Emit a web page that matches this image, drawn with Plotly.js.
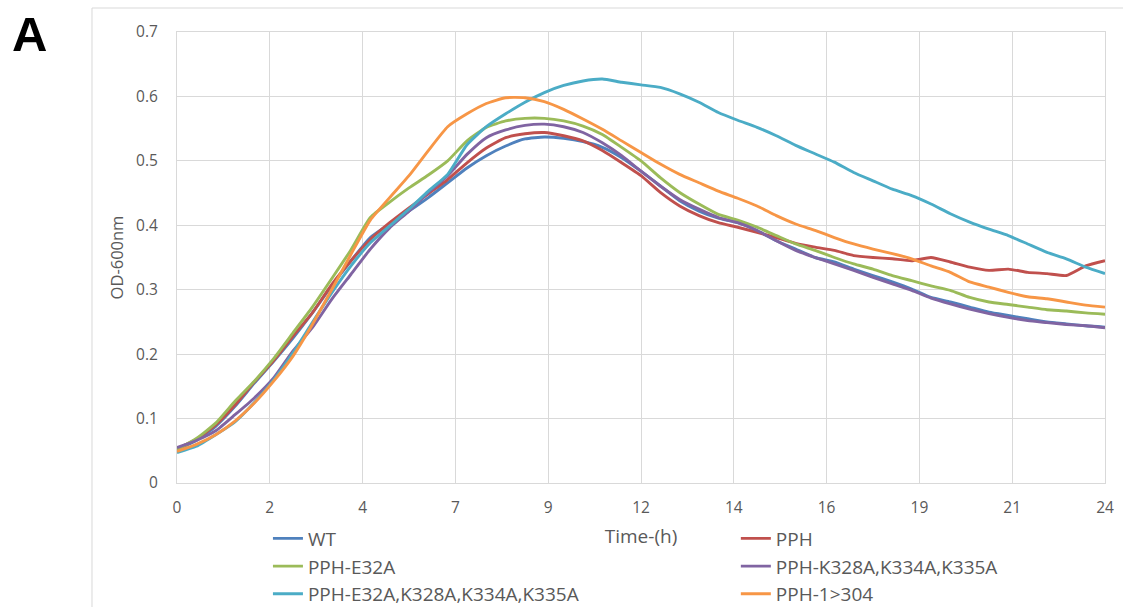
<!DOCTYPE html>
<html>
<head>
<meta charset="utf-8">
<script src="https://cdn.plot.ly/plotly-3.0.1.min.js"></script>
<style>
  html, body { margin: 0; padding: 0; background: #ffffff; overflow: hidden; }
  #chart { width: 1123px; height: 607px; }
</style>
</head>
<body>
<div id="chart"></div>
<script>
// ---- data ----
const timeHours = [0,0.5,1,1.5,2,2.5,3,3.5,4,4.5,5,5.5,6,6.5,7,7.5,8,8.5,9,9.5,10,10.5,11,11.5,12,12.5,13,13.5,14,14.5,15,15.5,16,16.5,17,17.5,18,18.5,19,19.5,20,20.5,21,21.5,22,22.5,23,23.5,24];

const seriesNames = ["WT", "PPH", "PPH-E32A", "PPH-K328A,K334A,K335A", "PPH-E32A,K328A,K334A,K335A", "PPH-1>304"];

const wt = [0.052,0.066,0.088,0.119,0.155,0.189,0.225,0.264,0.306,0.345,0.381,0.402,0.422,0.443,0.466,0.489,0.508,0.523,0.534,0.537,0.535,0.530,0.521,0.505,0.484,0.461,0.438,0.422,0.411,0.404,0.392,0.376,0.363,0.350,0.343,0.332,0.322,0.312,0.301,0.288,0.281,0.273,0.265,0.260,0.255,0.250,0.247,0.244,0.242];

const pph = [0.053,0.068,0.090,0.121,0.157,0.190,0.228,0.264,0.308,0.345,0.378,0.404,0.427,0.449,0.471,0.497,0.520,0.536,0.542,0.544,0.539,0.531,0.516,0.497,0.477,0.451,0.430,0.415,0.404,0.397,0.389,0.381,0.372,0.366,0.361,0.353,0.350,0.348,0.345,0.350,0.343,0.335,0.330,0.332,0.327,0.325,0.322,0.337,0.345];

const pphE32A = [0.052,0.069,0.093,0.127,0.158,0.193,0.233,0.273,0.317,0.362,0.412,0.436,0.458,0.478,0.500,0.531,0.552,0.562,0.566,0.566,0.562,0.554,0.541,0.521,0.500,0.474,0.451,0.433,0.417,0.408,0.397,0.384,0.371,0.361,0.350,0.340,0.332,0.322,0.314,0.306,0.299,0.288,0.281,0.277,0.273,0.269,0.267,0.264,0.262];

const pphK3 = [0.055,0.066,0.081,0.106,0.132,0.163,0.205,0.241,0.285,0.324,0.363,0.396,0.422,0.451,0.477,0.510,0.536,0.548,0.555,0.557,0.553,0.544,0.528,0.508,0.484,0.461,0.440,0.425,0.412,0.404,0.392,0.376,0.361,0.350,0.340,0.330,0.319,0.309,0.299,0.287,0.278,0.270,0.263,0.257,0.252,0.249,0.246,0.244,0.241];

const pphE32AK3 = [0.047,0.057,0.075,0.095,0.125,0.160,0.202,0.249,0.295,0.337,0.373,0.399,0.425,0.453,0.479,0.525,0.553,0.573,0.591,0.606,0.617,0.624,0.627,0.622,0.618,0.614,0.604,0.591,0.575,0.563,0.552,0.539,0.524,0.511,0.498,0.482,0.469,0.456,0.446,0.433,0.418,0.405,0.394,0.384,0.371,0.358,0.348,0.335,0.325];

const pph1to304 = [0.049,0.060,0.075,0.096,0.124,0.158,0.197,0.246,0.300,0.355,0.408,0.443,0.477,0.516,0.553,0.573,0.589,0.598,0.598,0.592,0.580,0.565,0.549,0.531,0.513,0.495,0.479,0.466,0.453,0.442,0.430,0.415,0.402,0.392,0.381,0.371,0.363,0.356,0.348,0.337,0.327,0.312,0.304,0.296,0.289,0.286,0.281,0.276,0.273];

const xTickVals = [0,2.4,4.8,7.2,9.6,12,14.4,16.8,19.2,21.6,24];
const xTickLabels = ["0","2","4","7","9","12","14","16","19","21","24"];
const yTickVals = [0,0.1,0.2,0.3,0.4,0.5,0.6,0.7];
const yTickLabels = ["0","0.1","0.2","0.3","0.4","0.5","0.6","0.7"];

// ---- styles ----
const seriesValues = [wt, pph, pphE32A, pphK3, pphE32AK3, pph1to304];
const colors = ["#4F81BD", "#C0504D", "#9BBB59", "#8064A2", "#4BACC6", "#F79646"];
const legendOf = ["legend", "legend2", "legend", "legend2", "legend", "legend2"];
const FONT = "Open Sans, Liberation Sans, sans-serif";
const GRID = "#d9d9d9";
const TXT = "#595959";

const traces = seriesValues.map((vals, i) => ({
  type: "scatter",
  mode: "lines",
  name: seriesNames[i],
  x: timeHours,
  y: vals,
  legend: legendOf[i],
  line: { color: colors[i], width: 2.9, shape: "spline", smoothing: 0.5 },
  hoverinfo: "skip"
}));

const legendBase = {
  orientation: "v",
  xanchor: "left",
  y: -0.081,
  yanchor: "top",
  font: { family: FONT, size: 19, color: TXT },
  bgcolor: "rgba(0,0,0,0)",
  borderwidth: 0,
  traceorder: "normal",
  tracegroupgap: 0,
  itemclick: false,
  itemdoubleclick: false
};

const layout = {
  width: 1123,
  height: 607,
  margin: { l: 177, r: 18, t: 32, b: 124, pad: 0, autoexpand: false },
  paper_bgcolor: "#ffffff",
  plot_bgcolor: "#ffffff",
  showlegend: true,
  font: { family: FONT, color: TXT, size: 15 },
  xaxis: {
    range: [0, 24],
    tickmode: "array",
    tickvals: xTickVals,
    ticktext: xTickLabels,
    showgrid: true,
    gridcolor: GRID,
    gridwidth: 1,
    showline: true,
    linecolor: GRID,
    linewidth: 1,
    mirror: true,
    zeroline: false,
    ticks: "",
    ticklabelstandoff: 10,
    tickfont: { family: FONT, size: 15.5, color: TXT },
    title: { text: "Time-(h)", font: { family: FONT, size: 19, color: TXT }, standoff: 13 }
  },
  yaxis: {
    range: [0, 0.7],
    tickmode: "array",
    tickvals: yTickVals,
    ticktext: yTickLabels,
    showgrid: true,
    gridcolor: GRID,
    gridwidth: 1,
    showline: true,
    linecolor: GRID,
    linewidth: 1,
    mirror: true,
    zeroline: false,
    ticks: "",
    ticklabelstandoff: 15,
    tickfont: { family: FONT, size: 15.5, color: TXT },
    title: { text: "OD-600nm", font: { family: FONT, size: 16.5, color: TXT }, standoff: 8 }
  },
  legend: Object.assign({}, legendBase, { x: 0.098 }),
  legend2: Object.assign({}, legendBase, { x: 0.6022 }),
  shapes: [{
    type: "rect", xref: "paper", yref: "paper", layer: "below",
    x0: -0.0916, x1: 1.05, y0: -0.35, y1: 1.0532,
    line: { color: GRID, width: 1 }, fillcolor: "rgba(0,0,0,0)"
  }],
  annotations: [{
    text: "<b>A</b>", xref: "paper", yref: "paper",
    x: -0.159, y: 0.9956, xanchor: "center", yanchor: "middle",
    showarrow: false,
    font: { family: "Liberation Sans, Arial, sans-serif", size: 49, color: "#000000" }
  }]
};

Plotly.newPlot("chart", traces, layout, { staticPlot: true, displayModeBar: false });
</script>
</body>
</html>
